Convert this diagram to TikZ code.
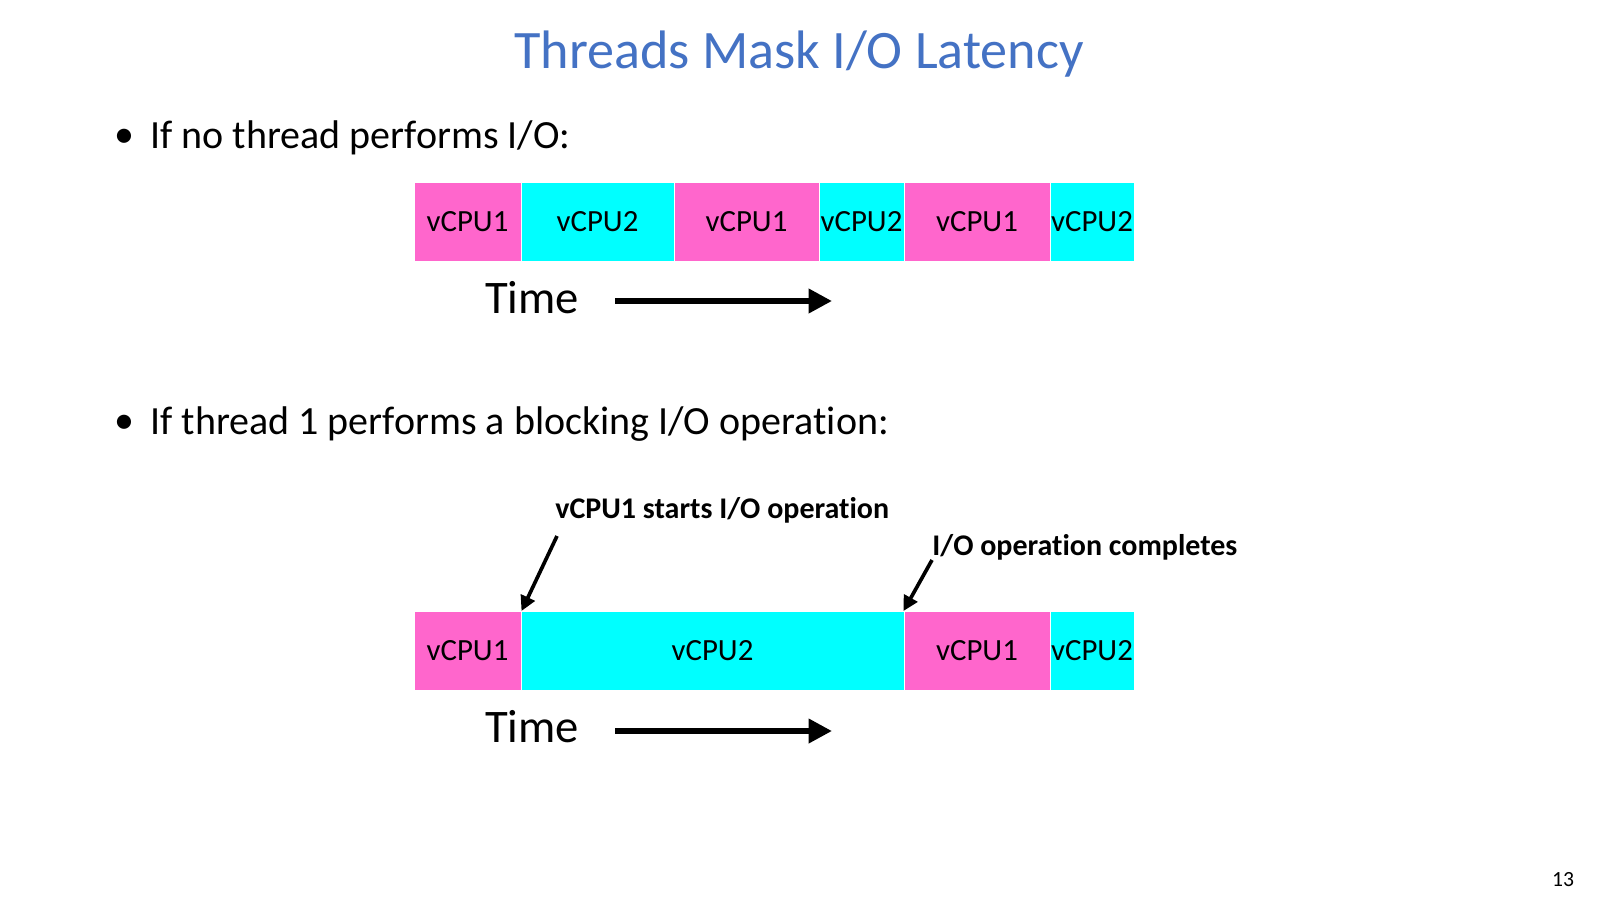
\documentclass[tikz,border=0pt]{standalone}
\usepackage{fontspec}
\setmainfont{Carlito}[RawFeature=-liga]
\usetikzlibrary{arrows.meta}
\definecolor{pk}{HTML}{FF66CC}
\definecolor{cy}{HTML}{00FFFF}
\definecolor{ttl}{HTML}{4472C4}
\tikzset{
  seg/.style 2 args={fill=#1, draw=white, line width=0.6pt, minimum width=#2*0.6pt, minimum height=79*0.6pt, inner sep=0pt, font=\fontsize{18.5}{22}\selectfont},
  timelbl/.style={font=\fontsize{28}{34}\selectfont, inner sep=0pt},
  timearrow/.style={line width=3.4pt, -{Triangle[length=14pt,width=14pt]}},
  ptr/.style={line width=2.2pt, -{Triangle[length=9pt,width=9pt]}},
  note/.style={font=\bfseries\fontsize{18}{22}\selectfont, inner sep=0pt, anchor=west},
  bullet/.style={font=\fontsize{24}{29}\selectfont, inner sep=0pt, anchor=west}
}
\begin{document}
\begin{tikzpicture}[x=0.6pt,y=-0.6pt]
\useasboundingbox[fill=white] (0,0) rectangle (1600,900);
\node[font=\fontsize{32.5}{39}\selectfont, text=ttl, inner sep=0pt] (title) at (799,54) {Threads Mask I/O Latency};
\node[bullet] (dot1) at (114,138) {\textbullet};
\node[bullet] (bul1) at (150,138) {If no thread performs I/O:};
\node[bullet] (dot2) at (114,424) {\textbullet};
\node[bullet] (bul2) at (150,424) {If thread 1 performs a blocking I/O operation:};
% top row
\node[seg={pk}{107}] (a1) at (467.5,221.5) {vCPU1};
\node[seg={cy}{153}] (a2) at (597.5,221.5) {vCPU2};
\node[seg={pk}{145}] (a3) at (746.5,221.5) {vCPU1};
\node[seg={cy}{85}]  (a4) at (861.5,221.5) {vCPU2};
\node[seg={pk}{146}] (a5) at (977,221.5) {vCPU1};
\node[seg={cy}{84}]  (a6) at (1092,221.5) {vCPU2};
\node[timelbl] (t1) at (532,298) {Time};
\coordinate (t1s) at (615,301);
\coordinate (t1e) at (832,301);
\draw[timearrow] (t1s) -- (t1e);
% bottom row
\node[seg={pk}{107}] (b1) at (467.5,651) {vCPU1};
\node[seg={cy}{383}] (b2) at (712.5,651) {vCPU2};
\node[seg={pk}{146}] (b3) at (977,651) {vCPU1};
\node[seg={cy}{84}]  (b4) at (1092,651) {vCPU2};
\node[timelbl] (t2) at (532,727) {Time};
\coordinate (t2s) at (615,731);
\coordinate (t2e) at (832,731);
\draw[timearrow] (t2s) -- (t2e);
% annotations
\node[note] (n1) at (555,510) {vCPU1 starts I/O operation};
\node[note] (n2) at (932,547) {I/O operation completes};
\coordinate (p1) at (557,536);
\coordinate (p2) at (932,560);
\draw[ptr] (p1) -- (b1.north east);
\draw[ptr] (p2) -- (b3.north west);
\node[font=\fontsize{13}{15}\selectfont, inner sep=0pt] (pg) at (1563,880) {13};
\end{tikzpicture}
\end{document}
